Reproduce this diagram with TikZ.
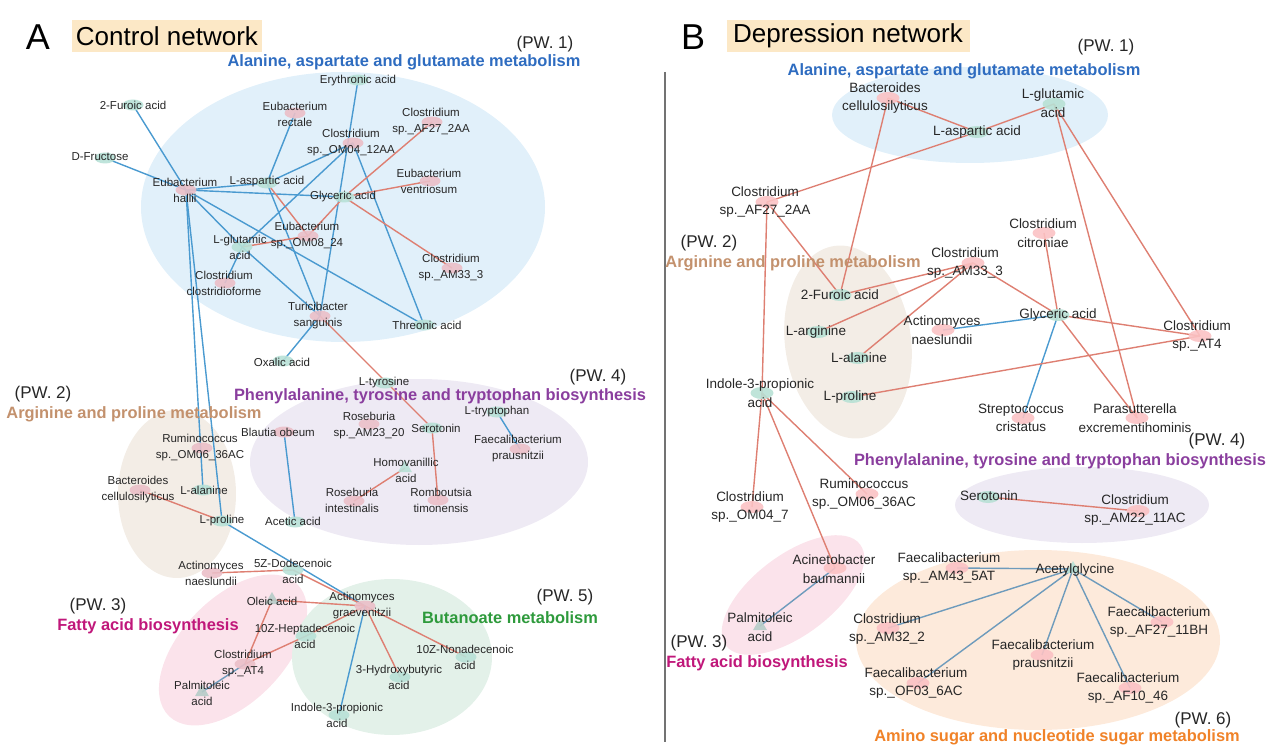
\documentclass[tikz,border=0pt]{standalone}
\usepackage{fontspec}
\setmainfont{Liberation Sans}
\usetikzlibrary{shapes.geometric}
\pgfdeclarelayer{regions}
\pgfdeclarelayer{edges}
\pgfsetlayers{regions,edges,main}
\definecolor{eblue}{HTML}{4A9AD0}
\definecolor{ered}{HTML}{DE7F72}
\definecolor{esteel}{HTML}{6E9BBC}
\definecolor{pinkA}{HTML}{EBBFC8}
\definecolor{greenA}{HTML}{B8E1D7}
\definecolor{pinkB}{HTML}{FBC2C4}
\definecolor{greenB}{HTML}{B8E1D5}
\definecolor{grayM}{HTML}{B6CCC8}
\definecolor{rBlue}{HTML}{E1F0FA}
\definecolor{rBeige}{HTML}{F3EDE6}
\definecolor{rLav}{HTML}{EEEAF4}
\definecolor{rPink}{HTML}{FBE3EB}
\definecolor{rGreen}{HTML}{E3F1E9}
\definecolor{rOrange}{HTML}{FDEADB}
\definecolor{tBlue}{HTML}{2E6CC0}
\definecolor{tBrown}{HTML}{C3916D}
\definecolor{tPurple}{HTML}{8A3E9E}
\definecolor{tMag}{HTML}{C0177A}
\definecolor{tGreen}{HTML}{2E9A3C}
\definecolor{tOrange}{HTML}{F08228}
\definecolor{hdr}{HTML}{FCE8C6}
\newcommand{\labA}{\fontsize{11.5}{16}\selectfont}
\newcommand{\labB}{\fontsize{13.5}{18.5}\selectfont}
\newcommand{\ttlfont}{\fontsize{16.4}{18}\selectfont\bfseries}
\newcommand{\pwfont}{\fontsize{17}{19}\selectfont}
\newcommand{\hdrfont}{\fontsize{26}{28}\selectfont}
\newcommand{\bigfont}{\fontsize{36}{38}\selectfont}
\newcommand{\nd}[6]{\node[#1] (#2) at (#3) {}; \node[#4] (#2T) at (#5) {#6};}
\begin{document}
\begin{tikzpicture}[x=1pt,y=-1pt,
  spA/.style={ellipse, fill=pinkA, minimum width=21pt, minimum height=11pt, inner sep=0pt, fill opacity=0.9},
  mtA/.style={ellipse, fill=greenA, minimum width=21pt, minimum height=11pt, inner sep=0pt, fill opacity=0.9},
  trA/.style={regular polygon, regular polygon sides=3, fill=#1, minimum size=16pt, inner sep=0pt, fill opacity=0.9},
  spB/.style={ellipse, fill=pinkB, minimum width=23pt, minimum height=12pt, inner sep=0pt, fill opacity=0.9},
  mtB/.style={ellipse, fill=greenB, minimum width=23pt, minimum height=12pt, inner sep=0pt, fill opacity=0.9},
  lblA/.style={font=\labA, align=center, inner sep=0pt, text=black!85},
  lblB/.style={font=\labB, align=center, inner sep=0pt, text=black!85},
  ttl/.style={font=\ttlfont, inner sep=0pt, text=#1},
  pwl/.style={font=\pwfont, inner sep=0pt, text=black!85},
  posE/.style={draw=eblue, line width=1.4pt},
  negE/.style={draw=ered, line width=1.4pt},
  stlE/.style={draw=esteel, line width=1.4pt}]
\useasboundingbox (0,0) rectangle (1269,751);

% ---------- regions ----------
\begin{pgfonlayer}{regions}
\fill[rBlue] (343,207) ellipse (202 and 135);
\fill[rLav] (419,462) ellipse (169 and 83);
\fill[rBeige] (177,494) ellipse (59 and 84);
\begin{scope}[shift={(233,650)}, rotate=46]
\fill[rPink] (0,0) ellipse (92 and 52);
\end{scope}
\fill[rGreen] (392,657) ellipse (100 and 78);
\fill[rBlue] (970,115) ellipse (138 and 48);
\begin{scope}[shift={(848,342)}, rotate=8]
\fill[rBeige] (0,0) ellipse (63 and 97);
\end{scope}
\fill[rLav] (1082,505) ellipse (127 and 38);
\begin{scope}[shift={(793,595)}, rotate=37]
\fill[rPink] (0,0) ellipse (84 and 40);
\end{scope}
\fill[rOrange] (1038,640) ellipse (182 and 90);
\end{pgfonlayer}

% ---------- headers ----------
\node[font=\bigfont, inner sep=0pt] (hA) at (38,37) {A};
\node[fill=hdr, minimum width=190pt, minimum height=32pt, inner sep=0pt, font=\hdrfont] (hAt) at (167,36) {Control network};
\node[font=\bigfont, inner sep=0pt] (hB) at (693,37) {B};
\node[fill=hdr, minimum width=243pt, minimum height=32pt, inner sep=0pt, font=\hdrfont] (hBt) at (848,36) {Depression network};
\draw[black!55, line width=1.2pt] (665,72) -- (665,742);

% ---------- titles A ----------
\node[ttl=tBlue] (tA1) at (404,62) {Alanine, aspartate and glutamate metabolism};
\node[pwl] (pA1) at (545,44) {(PW. 1)};
\node[ttl=tPurple] (tA4) at (440,396) {Phenylalanine, tyrosine and tryptophan biosynthesis};
\node[pwl] (pA4) at (598,377) {(PW. 4)};
\node[ttl=tBrown] (tA2) at (134,414) {Arginine and proline metabolism};
\node[pwl] (pA2) at (43,394) {(PW. 2)};
\node[ttl=tMag] (tA3) at (148,626) {Fatty acid biosynthesis};
\node[pwl] (pA3) at (98,606) {(PW. 3)};
\node[ttl=tGreen] (tA5) at (510,618) {Butanoate metabolism};
\node[pwl] (pA5) at (565,597) {(PW. 5)};

% ---------- titles B ----------
\node[ttl=tBlue] (tB1) at (964,71) {Alanine, aspartate and glutamate metabolism};
\node[pwl] (pB1) at (1106,47) {(PW. 1)};
\node[ttl=tBrown] (tB2) at (793,263) {Arginine and proline metabolism};
\node[pwl] (pB2) at (709,243) {(PW. 2)};
\node[ttl=tPurple] (tB4) at (1060,461) {Phenylalanine, tyrosine and tryptophan biosynthesis};
\node[pwl] (pB4) at (1217,441) {(PW. 4)};
\node[ttl=tMag] (tB3) at (757,663) {Fatty acid biosynthesis};
\node[pwl] (pB3) at (699,643) {(PW. 3)};
\node[ttl=tOrange] (tB6) at (1057,737) {Amino sugar and nucleotide sugar metabolism};
\node[pwl] (pB6) at (1203,720) {(PW. 6)};

% ---------- nodes A ----------
\nd{mtA}{afur}{133,105}{lblA}{133,105}{2-Furoic acid}
\nd{mtA}{afru}{105,158}{lblA}{100,157}{D-Fructose}
\nd{spA}{ahal}{186,190}{lblA}{185,190}{Eubacterium\\hallii}
\nd{mtA}{aasp}{267,183}{lblA}{267,182}{L-aspartic acid}
\nd{spA}{arec}{295,113}{lblA}{295,114}{Eubacterium\\rectale}
\nd{mtA}{aery}{358,80}{lblA}{358,81}{Erythronic acid}
\nd{spA}{aom04}{353,143}{lblA}{351,143}{Clostridium\\sp.\_OM04\_12AA}
\nd{spA}{aaf27}{432,122}{lblA}{431,122}{Clostridium\\sp.\_AF27\_2AA}
\nd{spA}{aven}{430,181}{lblA}{429,181}{Eubacterium\\ventriosum}
\nd{mtA}{agly}{344,197}{lblA}{343,197}{Glyceric acid}
\nd{spA}{aom08}{308,236}{lblA}{307,236}{Eubacterium\\sp.\_OM08\_24}
\nd{mtA}{aglu}{242,247}{lblA}{240,247}{L-glutamic\\acid}
\nd{spA}{aclo}{225,283}{lblA}{224,283}{Clostridium\\clostridioforme}
\nd{spA}{aam33}{452,268}{lblA}{451,268}{Clostridium\\sp.\_AM33\_3}
\nd{spA}{atur}{320,316}{lblA}{318,316}{Turicibacter\\sanguinis}
\nd{mtA}{athr}{424,325}{lblA}{427,325}{Threonic acid}
\nd{mtA}{aoxa}{283,361}{lblA}{282,362}{Oxalic acid}
\nd{mtA}{atyr}{385,383}{lblA}{384,383}{L-tyrosine}
\nd{mtA}{atrp}{497,412}{lblA}{497,412}{L-tryptophan}
\nd{spA}{arosam}{369,424}{lblA}{369,426}{Roseburia\\sp.\_AM23\_20}
\nd{mtA}{aser}{432,428}{lblA}{436,428}{Serotonin}
\nd{spA}{afpr}{520,449}{lblA}{518,449}{Faecalibacterium\\prausnitzii}
\nd{spA}{abla}{284,432}{lblA}{278,432}{Blautia obeum}
\nd{trA=greenA}{ahom}{405,468}{lblA}{406,470}{Homovanillic\\acid}
\nd{spA}{aroi}{354,501}{lblA}{352,500}{Roseburia\\intestinalis}
\nd{spA}{arom}{438,500}{lblA}{441,500}{Romboutsia\\timonensis}
\nd{mtA}{aace}{295,522}{lblA}{293,521}{Acetic acid}
\nd{spA}{arum}{202,448}{lblA}{200,448}{Ruminococcus\\sp.\_OM06\_36AC}
\nd{spA}{abac}{140,490}{lblA}{138,490}{Bacteroides\\cellulosilyticus}
\nd{mtA}{aala}{203,490}{lblA}{204,490}{L-alanine}
\nd{mtA}{apro}{222,521}{lblA}{222,521}{L-proline}
\nd{spA}{anae}{212,573}{lblA}{211,573}{Actinomyces\\naeslundii}
\nd{mtA}{adod}{293,570}{lblA}{293,571}{5Z-Dodecenoic\\acid}
\nd{trA=grayM}{aole}{272,600}{lblA}{272,601}{Oleic acid}
\nd{mtA}{ahep}{306,636}{lblA}{305,636}{10Z-Heptadecenoic\\acid}
\nd{spA}{aat4}{245,664}{lblA}{243,664}{Clostridium\\sp.\_AT4}
\nd{trA=grayM}{apal}{202,692}{lblA}{202,693}{Palmitoleic\\acid}
\nd{spA}{agra}{365,606}{lblA}{362,606}{Actinomyces\\graevenitzii}
\nd{mtA}{anon}{466,657}{lblA}{465,657}{10Z-Nonadecenoic\\acid}
\nd{mtA}{ahyd}{400,677}{lblA}{399,677}{3-Hydroxybutyric\\acid}
\nd{mtA}{aind}{339,715}{lblA}{337,715}{Indole-3-propionic\\acid}

% ---------- nodes B ----------
\nd{spB}{bbac}{888,98}{lblB}{885,98}{Bacteroides\\cellulosilyticus}
\nd{mtB}{basp}{977,132}{lblB}{977,132}{L-aspartic acid}
\nd{mtB}{bglu}{1054,104}{lblB}{1053,103}{L-glutamic\\acid}
\nd{spB}{baf27}{767,202}{lblB}{765,202}{Clostridium\\sp.\_AF27\_2AA}
\nd{mtB}{bfur}{840,295}{lblB}{840,295}{2-Furoic acid}
\nd{mtB}{barg}{818,332}{lblB}{816,332}{L-arginine}
\nd{mtB}{bala}{858,358}{lblB}{859,358}{L-alanine}
\nd{mtB}{bpro}{852,397}{lblB}{850,397}{L-proline}
\nd{spB}{bnae}{943,330}{lblB}{942,330}{Actinomyces\\naeslundii}
\nd{spB}{bam33}{973,263}{lblB}{965,263}{Clostridium\\sp.\_AM33\_3}
\nd{spB}{bcit}{1044,233}{lblB}{1043,233}{Clostridium\\citroniae}
\nd{mtB}{bgly}{1058,315}{lblB}{1058,315}{Glyceric acid}
\nd{spB}{bat4}{1200,336}{lblB}{1197,336}{Clostridium\\sp.\_AT4}
\nd{mtB}{bind}{762,393}{lblB}{760,393}{Indole-3-propionic\\acid}
\nd{spB}{bstr}{1023,418}{lblB}{1021,418}{Streptococcus\\cristatus}
\nd{spB}{bpar}{1137,418}{lblB}{1135,418}{Parasutterella\\excrementihominis}
\nd{spB}{bom04}{752,507}{lblB}{750,507}{Clostridium\\sp.\_OM04\_7}
\nd{spB}{brum}{867,494}{lblB}{864,494}{Ruminococcus\\sp.\_OM06\_36AC}
\nd{mtB}{bser}{988,497}{lblB}{989,496}{Serotonin}
\nd{spB}{bam22}{1138,511}{lblB}{1135,510}{Clostridium\\sp.\_AM22\_11AC}
\nd{spB}{baci}{835,568}{lblB}{834,569}{Acinetobacter\\baumannii}
\nd{trA=grayM}{bpal}{760,626}{lblB}{760,627}{Palmitoleic\\acid}
\nd{trA=greenB}{bacg}{1073,569}{lblB}{1075,570}{Acetylglycine}
\nd{spB}{bam43}{957,568}{lblB}{949,568}{Faecalibacterium\\sp.\_AM43\_5AT}
\nd{spB}{bam32}{888,628}{lblB}{887,629}{Clostridium\\sp.\_AM32\_2}
\nd{spB}{bof03}{918,683}{lblB}{916,683}{Faecalibacterium\\sp.\_OF03\_6AC}
\nd{spB}{bfpr}{1042,655}{lblB}{1043,655}{Faecalibacterium\\prausnitzii}
\nd{spB}{bafb}{1162,622}{lblB}{1159,622}{Faecalibacterium\\sp.\_AF27\_11BH}
\nd{spB}{baf10}{1130,688}{lblB}{1128,688}{Faecalibacterium\\sp.\_AF10\_46}

% ---------- edges ----------
\begin{pgfonlayer}{edges}
% A
\draw[posE] (afur.center) -- (ahal.center);
\draw[posE] (afru.center) -- (ahal.center);
\draw[posE] (ahal.center) -- (aasp.center);
\draw[posE] (ahal.center) -- (agly.center);
\draw[posE] (ahal.center) -- (aglu.center);
\draw[posE] (ahal.center) -- (athr.center);
\draw[posE] (ahal.center) -- (aala.center);
\draw[posE] (ahal.center) -- (apro.center);
\draw[posE] (arec.center) -- (aasp.center);
\draw[posE] (aasp.center) -- (aom04.center);
\draw[negE] (aasp.center) -- (aom08.center);
\draw[posE] (aasp.center) -- (atur.center);
\draw[posE] (aglu.center) -- (aom04.center);
\draw[negE] (aglu.center) -- (aom08.center);
\draw[posE] (aglu.center) -- (aclo.center);
\draw[posE] (aglu.center) -- (atur.center);
\draw[posE] (aery.center) -- (atur.center);
\draw[posE] (aom04.center) -- (athr.center);
\draw[negE] (agly.center) -- (aaf27.center);
\draw[negE] (agly.center) -- (aven.center);
\draw[negE] (agly.center) -- (aam33.center);
\draw[negE] (agly.center) -- (aom08.center);
\draw[posE] (atur.center) -- (aoxa.center);
\draw[negE] (atur.center) -- (aser.center);
\draw[posE] (atrp.center) -- (afpr.center);
\draw[posE] (abla.center) -- (aace.center);
\draw[negE] (ahom.center) -- (aroi.center);
\draw[negE] (aser.center) -- (arom.center);
\draw[negE] (abac.center) -- (apro.center);
\draw[posE] (apro.center) -- (agra.center);
\draw[negE] (anae.center) -- (adod.center);
\draw[negE] (adod.center) -- (agra.center);
\draw[negE] (aole.center) -- (agra.center);
\draw[negE] (aole.center) -- (aat4.center);
\draw[negE] (ahep.center) -- (aat4.center);
\draw[negE] (ahep.center) -- (agra.center);
\draw[stlE] (aat4.center) -- (apal.center);
\draw[negE] (agra.center) -- (anon.center);
\draw[negE] (agra.center) -- (ahyd.center);
\draw[posE] (agra.center) -- (aind.center);
% B
\draw[negE] (bbac.center) -- (basp.center);
\draw[negE] (basp.center) -- (bglu.center);
\draw[negE] (basp.center) -- (baf27.center);
\draw[negE] (bbac.center) -- (bfur.center);
\draw[negE] (bglu.center) -- (bpar.center);
\draw[negE] (bglu.center) -- (bat4.center);
\draw[negE] (baf27.center) -- (bfur.center);
\draw[negE] (baf27.center) -- (bind.center);
\draw[negE] (bam33.center) -- (bfur.center);
\draw[negE] (bam33.center) -- (barg.center);
\draw[negE] (bam33.center) -- (bala.center);
\draw[negE] (bam33.center) -- (bgly.center);
\draw[negE] (bgly.center) -- (bcit.center);
\draw[negE] (bgly.center) -- (bat4.center);
\draw[negE] (bgly.center) -- (bpar.center);
\draw[posE] (bgly.center) -- (bnae.center);
\draw[posE] (bgly.center) -- (bstr.center);
\draw[negE] (bpro.center) -- (bat4.center);
\draw[negE] (bind.center) -- (bom04.center);
\draw[negE] (bind.center) -- (brum.center);
\draw[negE] (bind.center) -- (baci.center);
\draw[negE] (bser.center) -- (bam22.center);
\draw[stlE] (baci.center) -- (bpal.center);
\draw[stlE] (bacg.center) -- (bam43.center);
\draw[stlE] (bacg.center) -- (bam32.center);
\draw[stlE] (bacg.center) -- (bof03.center);
\draw[stlE] (bacg.center) -- (bfpr.center);
\draw[stlE] (bacg.center) -- (bafb.center);
\draw[stlE] (bacg.center) -- (baf10.center);
\end{pgfonlayer}
\end{tikzpicture}
\end{document}
